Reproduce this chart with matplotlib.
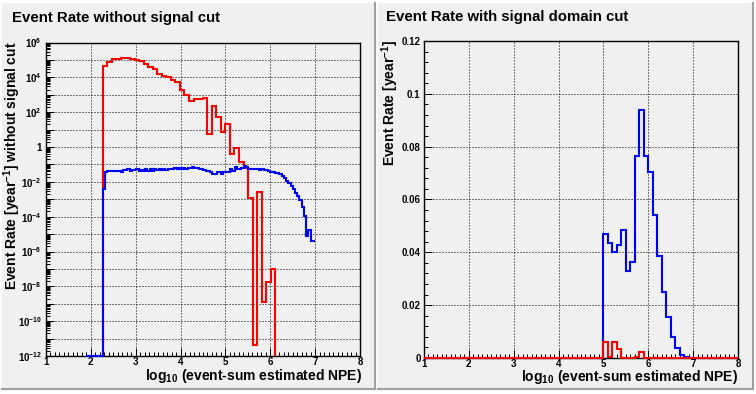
import numpy as np
import matplotlib
matplotlib.use('Agg')
import matplotlib.pyplot as plt
from matplotlib.patches import Rectangle
from matplotlib.lines import Line2D
from matplotlib.ticker import FixedLocator, FixedFormatter, MultipleLocator, LogLocator, NullFormatter

plt.rcParams['font.family'] = ['Liberation Sans', 'DejaVu Sans']
plt.rcParams['font.weight'] = 'bold'
plt.rcParams['mathtext.fontset'] = 'custom'
plt.rcParams['mathtext.rm'] = 'Liberation Sans:bold'
plt.rcParams['mathtext.bf'] = 'Liberation Sans:bold'
plt.rcParams['mathtext.it'] = 'Liberation Sans:bold'
plt.rcParams['mathtext.default'] = 'bf'

# ---------------- data ----------------
# Left panel: event rate without signal cut (log10 of rate per year)
left_blue_zero_from = 1.9
left_blue_lo, left_blue_hi = 2.265, 7.0
left_blue_log10 = [
    -2.42, -1.42, -1.40, -1.40, -1.38, -1.36, -1.40, -1.38, -1.46, -1.34,
    -1.32, -1.27, -1.36, -1.30, -1.33, -1.28, -1.36, -1.32, -1.35, -1.28,
    -1.37, -1.28, -1.35, -1.29, -1.30, -1.28, -1.32, -1.28, -1.30, -1.27,
    -1.25, -1.24, -1.22, -1.24, -1.22, -1.24, -1.22, -1.26, -1.21, -1.23,
    -1.16, -1.18, -1.22, -1.26, -1.27, -1.30, -1.35, -1.35, -1.41, -1.55,
    -1.55, -1.41, -1.45, -1.55, -1.41, -1.41, -1.41, -1.25, -1.35, -1.16,
    -1.25, -1.29, -1.22, -1.10, -1.16, -1.25, -1.24, -1.26, -1.25, -1.25,
    -1.30, -1.28, -1.30, -1.33, -1.38, -1.42, -1.45, -1.49, -1.52, -1.55,
    -1.65, -1.80, -1.94, -2.08, -2.24, -2.39, -2.63, -2.82, -3.02, -3.43,
    -3.94, -5.09, -4.77, -5.41, -5.41,
]
left_red_lo = 2.265
left_red_width = 0.10125
left_red_log10 = [
    4.64, 4.87, 5.04, 5.04, 5.10, 5.10, 5.04, 5.00, 4.94, 4.77,
    4.60, 4.48, 4.20, 4.08, 4.00, 3.85, 3.72, 3.28, 2.99, 2.65,
    2.77, 2.77, 2.81, 0.75, 2.36, 1.72, 0.86, 1.32, -0.38, -0.06,
    -0.85, -1.18, -2.90, -11.39, -2.61, -8.90, -7.75, -7.01,
]

# Right panel: event rate with signal domain cut (per year), 0.1 bins
right_x_min, right_x_max, right_bin_width = 1.0, 8.0, 0.1
right_blue_lo = 5.0
right_blue = [0.0471, 0.0437, 0.0400, 0.0427, 0.0484, 0.0328, 0.0362, 0.0765,
              0.0937, 0.0765, 0.0704, 0.0541, 0.0387, 0.0251, 0.0154, 0.0078,
              0.0037, 0.0010, 0.0003]
right_red_lo = 5.0
right_red = [0.0060, 0.0005, 0.0060, 0.0034, 0.0, 0.0, 0.0, 0.0005, 0.0021]

x_ticks = [1, 2, 3, 4, 5, 6, 7, 8]
x_tick_labels = ['1', '2', '3', '4', '5', '6', '7', '8']
right_y_ticks = [0, 0.02, 0.04, 0.06, 0.08, 0.10, 0.12]
right_y_labels = ['0', '0.02', '0.04', '0.06', '0.08', '0.1', '0.12']
left_decades = list(range(-12, 7))

title_left = 'Event Rate without signal cut'
title_right = 'Event Rate with signal domain cut'
ylabel_left = r'Event Rate [year$^{-1}$] without signal cut'
ylabel_right = r'Event Rate [year$^{-1}$]'
xlabel = r'log$_{10}$ (event-sum estimated NPE)'

# ---------------- figure ----------------
W, H, DPI = 756, 394, 100
fig = plt.figure(figsize=(W / DPI, H / DPI), dpi=DPI, facecolor='white')

def fx(px):
    return px / W

def fy(py):
    return 1 - py / H

PADC = '#f0f0f0'
EDGE = '#a0a0a0'

def pad(x0, x1, y0, y1):
    fig.add_artist(Rectangle((fx(x0), fy(y1)), (x1 - x0) / W, (y1 - y0) / H,
                             transform=fig.transFigure, facecolor=PADC,
                             edgecolor='none', zorder=-10))
    fig.add_artist(Line2D([fx(x1), fx(x1)], [fy(y0), fy(y1)], transform=fig.transFigure,
                          color=EDGE, lw=1.5, zorder=-9))
    fig.add_artist(Line2D([fx(x0), fx(x1)], [fy(y1), fy(y1)], transform=fig.transFigure,
                          color=EDGE, lw=1.5, zorder=-9))

pad(2, 375, 3, 389)
pad(378, 753, 3, 389)

axL = fig.add_axes([fx(46), fy(356), (360 - 46) / W, (356 - 42.5) / H])
axR = fig.add_axes([fx(424), fy(358), (738 - 424) / W, (358 - 41) / H])

LW = 1.5
GRID = dict(color='black', linestyle=(0, (1, 2)), linewidth=0.72)

for ax in (axL, axR):
    ax.set_facecolor(PADC)
    for s in ax.spines.values():
        s.set_linewidth(1.0)
        s.set_color('black')
    ax.set_xlim(1, 8)
    ax.xaxis.set_major_locator(FixedLocator(x_ticks))
    ax.xaxis.set_major_formatter(FixedFormatter(x_tick_labels))
    ax.xaxis.set_minor_locator(MultipleLocator(0.1))
    ax.tick_params(which='both', direction='in', top=False, right=False,
                   labelsize=7, width=0.72, color='black')
    ax.tick_params(which='major', length=6)
    ax.tick_params(which='minor', length=3)
    ax.tick_params(axis='x', pad=1.0)
    ax.set_axisbelow(True)
    ax.grid(True, which='major', **GRID)

# Left panel
floor = 1e-12
axL.set_yscale('log')
axL.set_ylim(floor, 1e6)
axL.yaxis.set_major_locator(FixedLocator([10.0 ** k for k in left_decades]))
lbls = []
for k in left_decades:
    if k % 2:
        lbls.append('')
    elif k == 0:
        lbls.append('1')
    else:
        lbls.append(r'$10^{%d}$' % k)
axL.yaxis.set_major_formatter(FixedFormatter(lbls))
axL.yaxis.set_minor_locator(LogLocator(base=10, subs=np.arange(2, 10), numticks=100))
axL.yaxis.set_minor_formatter(NullFormatter())
axL.tick_params(axis='y', pad=3)

red_edges = left_red_lo + left_red_width * np.arange(len(left_red_log10) + 1)
axL.stairs(10.0 ** np.array(left_red_log10), red_edges, baseline=floor,
           color='#ff0000', lw=LW, zorder=3, clip_on=False)
blue_edges = np.concatenate([[left_blue_zero_from],
                             np.linspace(left_blue_lo, left_blue_hi, len(left_blue_log10) + 1)])
blue_vals = np.concatenate([[floor], 10.0 ** np.array(left_blue_log10)])
axL.stairs(blue_vals, blue_edges, baseline=None, color='#0000ff', lw=LW, zorder=4, clip_on=False)

# Right panel
axR.set_ylim(0, 0.12)
axR.yaxis.set_major_locator(FixedLocator(right_y_ticks))
axR.yaxis.set_major_formatter(FixedFormatter(right_y_labels))
axR.yaxis.set_minor_locator(MultipleLocator(0.004))
axR.tick_params(axis='y', pad=2.5)
axR.tick_params(axis='x', pad=0.5)

nb = int(round((right_x_max - right_x_min) / right_bin_width))
r_edges = right_x_min + right_bin_width * np.arange(nb + 1)
blue_full = np.zeros(nb)
i0 = int(round((right_blue_lo - right_x_min) / right_bin_width))
blue_full[i0:i0 + len(right_blue)] = right_blue
red_full = np.zeros(nb)
j0 = int(round((right_red_lo - right_x_min) / right_bin_width))
red_full[j0:j0 + len(right_red)] = right_red
axR.stairs(blue_full, r_edges, baseline=None, color='#0000ff', lw=LW, zorder=3, clip_on=False)
axR.stairs(red_full, r_edges, baseline=None, color='#ff0000', lw=LW, zorder=4, clip_on=False)

# Texts
fig.text(fx(12), fy(22), title_left, fontsize=10.8, fontweight='bold', ha='left', va='baseline')
fig.text(fx(385.5), fy(21), title_right, fontsize=10.8, fontweight='bold', ha='left', va='baseline')
fig.text(fx(362), fy(380), xlabel, fontsize=10, fontweight='bold', ha='right', va='baseline')
fig.text(fx(737.5), fy(381.5), xlabel, fontsize=10, fontweight='bold', ha='right', va='baseline')
fig.text(fx(17), fy(41), ylabel_left, fontsize=10, fontweight='bold', rotation=90,
         rotation_mode='anchor', ha='right', va='baseline')
fig.text(fx(395), fy(40), ylabel_right, fontsize=10, fontweight='bold', rotation=90,
         rotation_mode='anchor', ha='right', va='baseline')

fig.savefig('out.png', dpi=DPI, facecolor=fig.get_facecolor())
